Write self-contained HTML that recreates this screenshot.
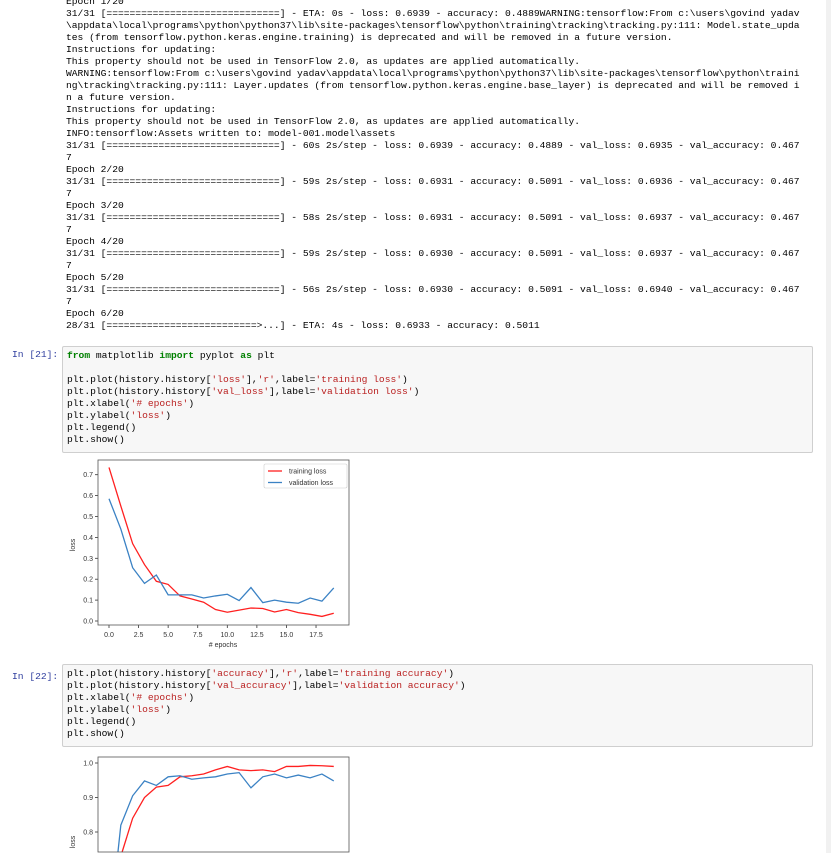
<!DOCTYPE html>
<html><head><meta charset="utf-8">
<style>
body{margin:0;width:831px;height:853px;overflow:hidden;background:#fff;position:relative;font-family:"Liberation Mono",monospace;}
.out{position:absolute;left:66px;top:-4px;margin:0;font-family:"Liberation Mono",monospace;font-size:9.65px;line-height:12px;color:#000;white-space:pre;}
.prompt{position:absolute;left:12px;font-family:"Liberation Mono",monospace;font-size:9.65px;color:#303F9F;}
.cell{position:absolute;left:62px;width:749px;background:#f7f7f7;border:1px solid #cfcfcf;border-radius:2px;}
.code{position:absolute;left:4px;top:3px;margin:0;font-family:"Liberation Mono",monospace;font-size:9.65px;line-height:12px;white-space:pre;color:#000;}
.k{color:#008000;font-weight:bold}.s{color:#BA2121}
.scroll{position:absolute;left:826px;top:0;width:5px;height:853px;background:#f1f1f1;}
svg text{font-family:"Liberation Sans",sans-serif;}
</style></head><body>
<div class="scroll"></div>
<pre class="out">Epoch 1/20
31/31 [==============================] - ETA: 0s - loss: 0.6939 - accuracy: 0.4889WARNING:tensorflow:From c:\users\govind yadav
\appdata\local\programs\python\python37\lib\site-packages\tensorflow\python\training\tracking\tracking.py:111: Model.state_upda
tes (from tensorflow.python.keras.engine.training) is deprecated and will be removed in a future version.
Instructions for updating:
This property should not be used in TensorFlow 2.0, as updates are applied automatically.
WARNING:tensorflow:From c:\users\govind yadav\appdata\local\programs\python\python37\lib\site-packages\tensorflow\python\traini
ng\tracking\tracking.py:111: Layer.updates (from tensorflow.python.keras.engine.base_layer) is deprecated and will be removed i
n a future version.
Instructions for updating:
This property should not be used in TensorFlow 2.0, as updates are applied automatically.
INFO:tensorflow:Assets written to: model-001.model\assets
31/31 [==============================] - 60s 2s/step - loss: 0.6939 - accuracy: 0.4889 - val_loss: 0.6935 - val_accuracy: 0.467
7
Epoch 2/20
31/31 [==============================] - 59s 2s/step - loss: 0.6931 - accuracy: 0.5091 - val_loss: 0.6936 - val_accuracy: 0.467
7
Epoch 3/20
31/31 [==============================] - 58s 2s/step - loss: 0.6931 - accuracy: 0.5091 - val_loss: 0.6937 - val_accuracy: 0.467
7
Epoch 4/20
31/31 [==============================] - 59s 2s/step - loss: 0.6930 - accuracy: 0.5091 - val_loss: 0.6937 - val_accuracy: 0.467
7
Epoch 5/20
31/31 [==============================] - 56s 2s/step - loss: 0.6930 - accuracy: 0.5091 - val_loss: 0.6940 - val_accuracy: 0.467
7
Epoch 6/20
28/31 [==========================&gt;...] - ETA: 4s - loss: 0.6933 - accuracy: 0.5011</pre>

<div class="prompt" style="top:349px">In [21]:</div>
<div class="cell" style="top:346px;height:105px">
<pre class="code"><span class="k">from</span> matplotlib <span class="k">import</span> pyplot <span class="k">as</span> plt

plt.plot(history.history[<span class="s">'loss'</span>],<span class="s">'r'</span>,label=<span class="s">'training loss'</span>)
plt.plot(history.history[<span class="s">'val_loss'</span>],label=<span class="s">'validation loss'</span>)
plt.xlabel(<span class="s">'# epochs'</span>)
plt.ylabel(<span class="s">'loss'</span>)
plt.legend()
plt.show()</pre></div>

<div class="prompt" style="top:671px">In [22]:</div>
<div class="cell" style="top:664px;height:81px">
<pre class="code">plt.plot(history.history[<span class="s">'accuracy'</span>],<span class="s">'r'</span>,label=<span class="s">'training accuracy'</span>)
plt.plot(history.history[<span class="s">'val_accuracy'</span>],label=<span class="s">'validation accuracy'</span>)
plt.xlabel(<span class="s">'# epochs'</span>)
plt.ylabel(<span class="s">'loss'</span>)
plt.legend()
plt.show()</pre></div>

<svg id="c1" style="position:absolute;left:0;top:0" width="831" height="853"></svg>

<script>
const epochs=[0,1,2,3,4,5,6,7,8,9,10,11,12,13,14,15,16,17,18,19];
const trainLoss=[0.735,0.55,0.37,0.27,0.19,0.175,0.12,0.105,0.09,0.055,0.042,0.052,0.062,0.06,0.043,0.055,0.04,0.032,0.022,0.037];
const valLoss=[0.585,0.44,0.255,0.18,0.22,0.125,0.125,0.125,0.11,0.12,0.128,0.098,0.16,0.088,0.1,0.09,0.085,0.11,0.095,0.158];
const trainAcc=[0.55,0.73,0.84,0.90,0.93,0.935,0.96,0.963,0.968,0.98,0.99,0.98,0.978,0.98,0.975,0.99,0.99,0.993,0.992,0.99];
const valAcc=[0.5,0.82,0.905,0.948,0.935,0.96,0.963,0.953,0.957,0.96,0.968,0.972,0.928,0.96,0.968,0.957,0.965,0.957,0.968,0.948];
const xTicks=[0,2.5,5,7.5,10,12.5,15,17.5];
const xTickLabels=["0.0","2.5","5.0","7.5","10.0","12.5","15.0","17.5"];
const lossTicks=[0,0.1,0.2,0.3,0.4,0.5,0.6,0.7];
const lossTickLabels=["0.0","0.1","0.2","0.3","0.4","0.5","0.6","0.7"];
const accTicks=[0.8,0.9,1.0];
const accTickLabels=["0.8","0.9","1.0"];

const NS="http://www.w3.org/2000/svg";
const svg=document.getElementById('c1');
function mk(tag,attrs,parent){const e=document.createElementNS(NS,tag);for(const k in attrs)e.setAttribute(k,attrs[k]);(parent||svg).appendChild(e);return e;}
const xs=v=>109+v*11.83;

// clip a polyline's points to y<=ymax, returning path data
function clipPath(pts,ymax){
  let d='',pen=false;
  for(let i=0;i<pts.length;i++){
    const [x,y]=pts[i];
    if(i===0){ if(y<=ymax){d+='M'+x+','+y;pen=true;} continue; }
    const [px,py]=pts[i-1];
    const inP=py<=ymax,inC=y<=ymax;
    if(inP&&inC){d+='L'+x+','+y;}
    else if(inP&&!inC){const t=(ymax-py)/(y-py);d+='L'+(px+t*(x-px))+','+ymax;pen=false;}
    else if(!inP&&inC){const t=(ymax-py)/(y-py);d+='M'+(px+t*(x-px))+','+ymax+'L'+x+','+y;pen=true;}
  }
  return d;
}

function chart(name,top,bottom,ys,yT,yL,series,legend,xaxis){
  const g=mk('g',{});
  
  
  yT.forEach((t,i)=>{const y=ys(t);
    const tk=mk('line',{x1:95,x2:98,y1:y,y2:y,stroke:'#333','stroke-width':0.8},g);
    
    
    const tx=mk('text',{x:93,y:y+2.5,'font-size':7,'text-anchor':'end',fill:'#333'},g);tx.textContent=yL[i];
    
    
  });
  if(xaxis){xTicks.forEach((t,i)=>{const x=xs(t);
    mk('line',{x1:x,x2:x,y1:bottom,y2:bottom+3,stroke:'#333','stroke-width':0.8},g);
    const tx=mk('text',{x:x,y:bottom+12,'font-size':7,'text-anchor':'middle',fill:'#333'},g);tx.textContent=xTickLabels[i];
    
    
  });
    const xl=mk('text',{x:223,y:bottom+22,'font-size':7,'text-anchor':'middle',fill:'#333'},g);xl.textContent='# epochs';
    
    
  }
  series.forEach(s=>{
    const pts=epochs.map((e,i)=>[xs(e),ys(s.v[i])]);
    const p=mk('path',{d:clipPath(pts,bottom),fill:'none',stroke:s.c,'stroke-width':1.3},g);
    
    
  });
  const fr=mk('rect',{x:98,y:top,width:251,height:bottom-top,fill:'none',stroke:'#555','stroke-width':0.8},g);
  
  
  if(legend){
    const lg=mk('g',{},g);
    
    
    mk('rect',{x:264,y:464,width:83,height:24,fill:'#fff',stroke:'#ccc','stroke-width':0.6,rx:1.5},lg);
    series.forEach((s,i)=>{const y=471+i*11.5;
      mk('line',{x1:268,x2:282,y1:y,y2:y,stroke:s.c,'stroke-width':1.3},lg);
      const t=mk('text',{x:289,y:y+2.5,'font-size':7,fill:'#333'},lg);t.textContent=s.l;
      
      
    });
  }
}
const ys1=v=>621-v*209;
chart('loss-chart',460,625,ys1,lossTicks,lossTickLabels,
 [{n:'training-loss-line',v:trainLoss,c:'#ff2020',l:'training loss'},{n:'validation-loss-line',v:valLoss,c:'#3b82c4',l:'validation loss'}],true,true);
const yl=mk('text',{x:0,y:0,'font-size':7,'text-anchor':'middle',fill:'#333',transform:'translate(75,545) rotate(-90)'});yl.textContent='loss';


const ys2=v=>763+(1-v)*345;
chart('accuracy-chart',757,852,ys2,accTicks,accTickLabels,
 [{n:'training-accuracy-line',v:trainAcc,c:'#ff2020',l:'training accuracy'},{n:'validation-accuracy-line',v:valAcc,c:'#3b82c4',l:'validation accuracy'}],false,false);
const yl2=mk('text',{x:0,y:0,'font-size':7,'text-anchor':'middle',fill:'#333',transform:'translate(75,842) rotate(-90)'});yl2.textContent='loss';


</script>
</body></html>
